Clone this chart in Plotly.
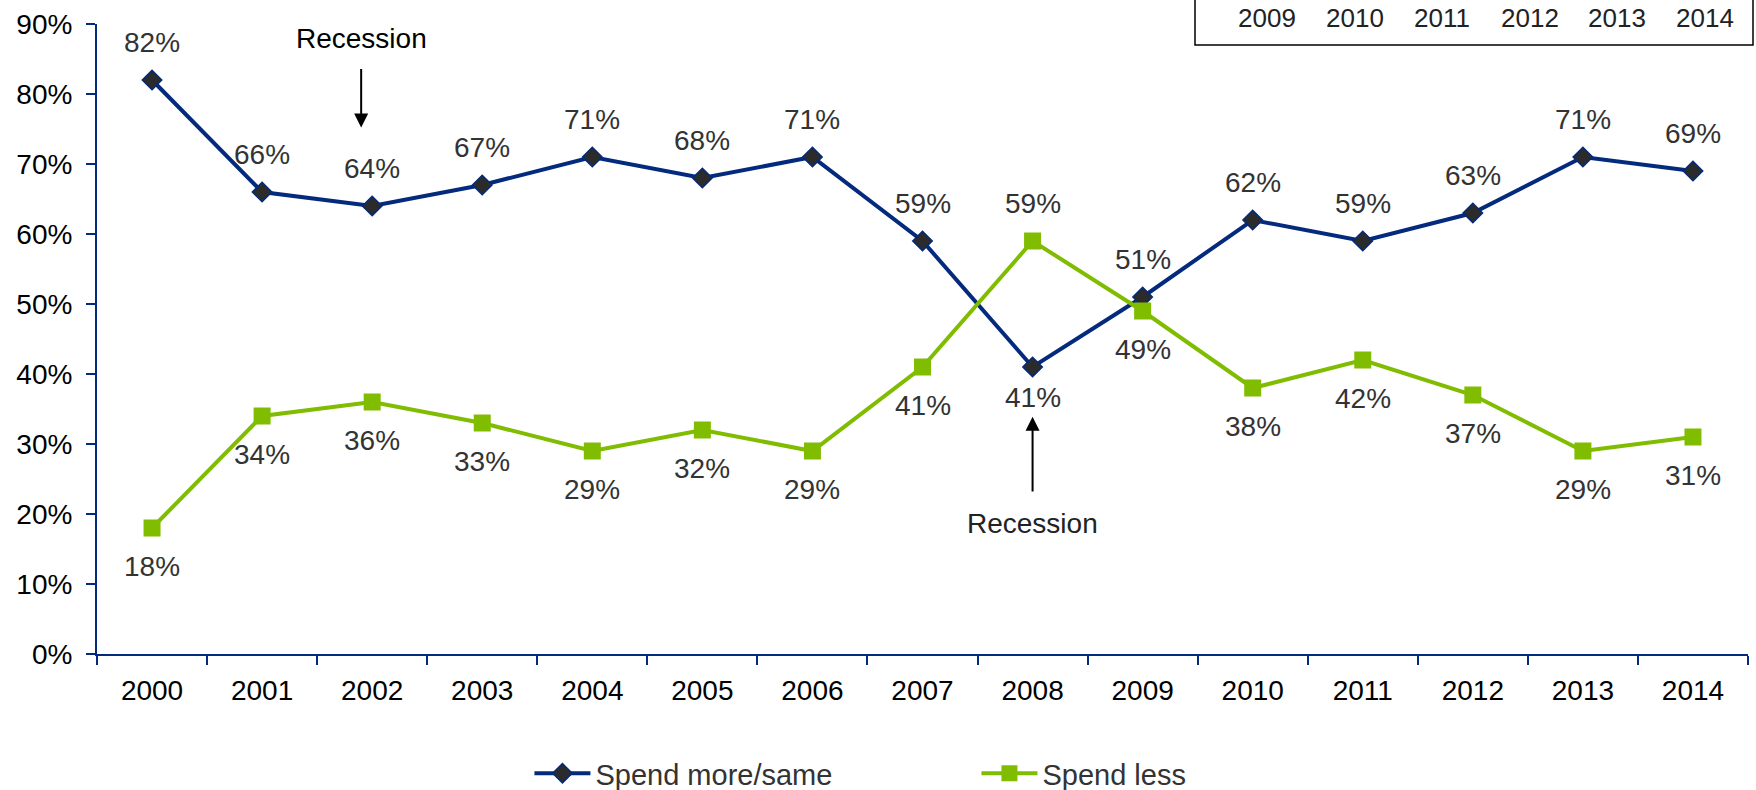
import plotly.graph_objects as go

years = ["2000", "2001", "2002", "2003", "2004", "2005", "2006", "2007",
         "2008", "2009", "2010", "2011", "2012", "2013", "2014"]
spend_more_same = [82, 66, 64, 67, 71, 68, 71, 59, 41, 51, 62, 59, 63, 71, 69]
spend_less = [18, 34, 36, 33, 29, 32, 29, 41, 59, 49, 38, 42, 37, 29, 31]
table_years = ["2009", "2010", "2011", "2012", "2013", "2014"]

NAVY = "#032A7C"
GREEN = "#80BC00"
FONT = "Arial, Liberation Sans, sans-serif"
LABEL_SIZE = 28

fig = go.Figure()
fig.add_trace(go.Scatter(
    x=years, y=spend_more_same, name="Spend more/same", mode="lines+markers",
    line=dict(color=NAVY, width=4),
    marker=dict(symbol="diamond", size=15, color="#2B2B2B",
                line=dict(color=NAVY, width=1.5)),
))
fig.add_trace(go.Scatter(
    x=years, y=spend_less, name="Spend less", mode="lines+markers",
    line=dict(color=GREEN, width=4),
    marker=dict(symbol="square", size=17, color=GREEN),
))

# value labels: navy above (except 2008), green below (except 2008)
for i, (a, b) in enumerate(zip(spend_more_same, spend_less)):
    a_up = years[i] != "2008"
    fig.add_annotation(x=i, y=a, text=f"{a}%", showarrow=False,
                       yshift=38 if a_up else -30,
                       font=dict(size=LABEL_SIZE, color="#333333", family=FONT))
    fig.add_annotation(x=i, y=b, text=f"{b}%", showarrow=False,
                       yshift=-38 if a_up else 38,
                       font=dict(size=LABEL_SIZE, color="#333333", family=FONT))

# recession markers
fig.add_annotation(x=1.9, y=75.2, ax=1.9, ay=83.8, axref="x", ayref="y",
                   text="", showarrow=True, arrowhead=2, arrowsize=1.4,
                   arrowwidth=2, arrowcolor="black")
fig.add_annotation(x=1.9, y=88.0, text="Recession", showarrow=False,
                   font=dict(size=LABEL_SIZE, color="black", family=FONT))
fig.add_annotation(x=8, y=33.9, ax=8, ay=23.0, axref="x", ayref="y",
                   text="", showarrow=True, arrowhead=2, arrowsize=1.4,
                   arrowwidth=2, arrowcolor="black")
fig.add_annotation(x=8, y=18.6, text="Recession", showarrow=False,
                   font=dict(size=LABEL_SIZE, color="#222222", family=FONT))

# partial year table in the top right corner
fig.add_shape(type="rect", xref="paper", yref="paper",
              x0=(1195 - 97) / 1651, x1=(1753 - 97) / 1651,
              y0=(654 - 45) / 630, y1=1.2,
              line=dict(color="black", width=1.5), fillcolor="white")
for k, t in enumerate(table_years):
    fig.add_annotation(xref="paper", yref="paper",
                       x=(1267 - 97 + k * 87.6) / 1651, y=(654 - 18) / 630,
                       xanchor="center", yanchor="middle",
                       text=t, showarrow=False,
                       font=dict(size=26, color="#222222", family=FONT))

fig.update_xaxes(
    type="category", range=[-0.5, 14.5], showline=True, linecolor=NAVY,
    linewidth=2, ticks="outside", tickson="boundaries", ticklen=9,
    tickcolor=NAVY, tickwidth=2, showgrid=False, ticklabelstandoff=10,
    tickfont=dict(size=LABEL_SIZE, color="black", family=FONT),
)
fig.update_yaxes(
    range=[0, 90], tickvals=list(range(0, 91, 10)),
    ticktext=[f"{v}%" for v in range(0, 91, 10)],
    showline=True, linecolor=NAVY, linewidth=2, ticks="outside",
    ticklen=9, tickcolor=NAVY, tickwidth=2, showgrid=False, zeroline=False,
    ticklabelstandoff=8,
    tickfont=dict(size=LABEL_SIZE, color="black", family=FONT),
)

fig.update_layout(
    width=1756, height=790,
    margin=dict(l=97, r=8, t=24, b=136),
    plot_bgcolor="white", paper_bgcolor="white",
    font=dict(family=FONT, color="#333333"),
    legend=dict(orientation="h", xref="container", yref="container",
                x=0.3015, y=0.021, xanchor="left", yanchor="middle",
                itemwidth=56, entrywidth=376,
                font=dict(size=29, color="#333333", family=FONT)),
)

fig.write_html("out.html")
